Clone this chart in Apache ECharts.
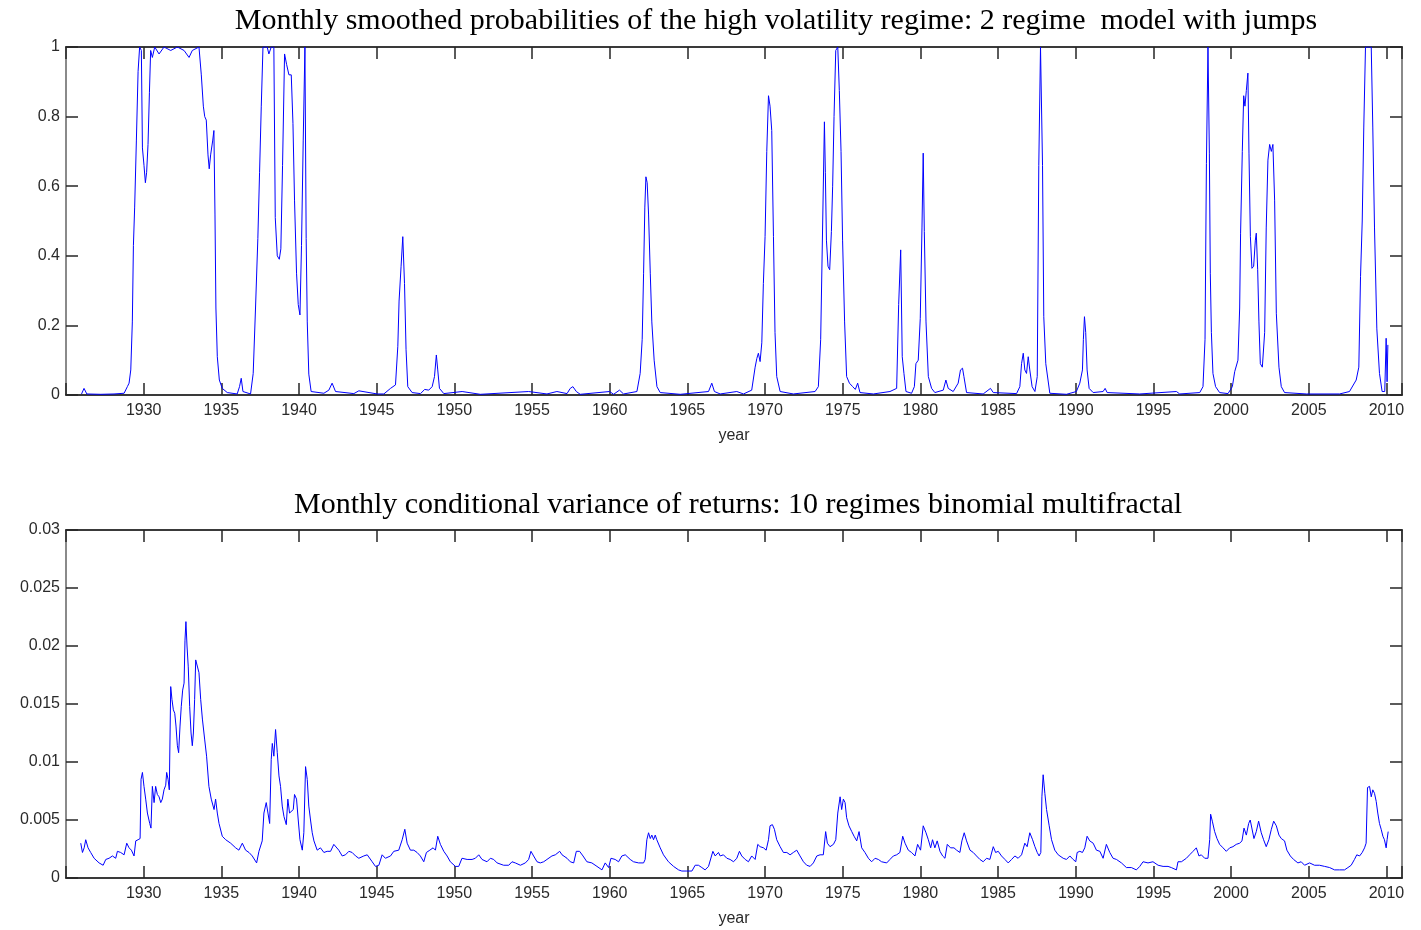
<!DOCTYPE html>
<html>
<head>
<meta charset="utf-8">
<script src="https://cdn.jsdelivr.net/npm/echarts@6/dist/echarts.min.js"></script>
<style>
html,body{margin:0;padding:0;background:#fff;}
#chart{width:1421px;height:930px;}
</style>
</head>
<body>
<div id="chart"></div>
<script>
const topTitle = 'Monthly smoothed probabilities of the high volatility regime: 2 regime  model with jumps';
const bottomTitle = 'Monthly conditional variance of returns: 10 regimes binomial multifractal';
const xAxisName = 'year';

// [year, smoothed probability of high-volatility regime]
const probPoints = [
[1926.0,0.003],[1926.16,0.019],[1926.34,0.003],[1927.24,0.002],[1928.09,0.003],[1928.74,0.005],[1928.95,0.024],[1929.06,0.034],[1929.17,0.072],[1929.27,0.21],[1929.34,0.43],[1929.42,0.54],[1929.53,0.73],[1929.64,0.93],[1929.74,1.0],[1929.85,0.99],[1929.92,0.71],[1930.02,0.66],[1930.11,0.61],[1930.19,0.64],[1930.28,0.72],[1930.37,0.87],[1930.45,0.99],[1930.56,0.97],[1930.71,1.0],[1930.99,0.98],[1931.31,1.0],[1931.74,0.99],[1932.17,1.0],[1932.6,0.99],[1932.92,0.97],[1933.13,0.99],[1933.56,1.0],[1933.71,0.92],[1933.84,0.83],[1933.93,0.8],[1934.03,0.79],[1934.14,0.69],[1934.22,0.65],[1934.31,0.69],[1934.44,0.73],[1934.52,0.76],[1934.59,0.52],[1934.65,0.25],[1934.74,0.11],[1934.87,0.043],[1935.06,0.019],[1935.38,0.007],[1936.02,0.003],[1936.17,0.024],[1936.28,0.048],[1936.39,0.01],[1936.88,0.003],[1937.05,0.062],[1937.2,0.25],[1937.35,0.45],[1937.46,0.64],[1937.57,0.83],[1937.68,1.0],[1937.95,1.0],[1938.06,0.98],[1938.21,1.0],[1938.38,1.0],[1938.47,0.51],[1938.6,0.4],[1938.73,0.39],[1938.83,0.42],[1938.94,0.66],[1939.07,0.98],[1939.2,0.95],[1939.35,0.92],[1939.5,0.92],[1939.61,0.78],[1939.71,0.56],[1939.84,0.35],[1939.95,0.26],[1940.06,0.23],[1940.16,0.43],[1940.27,0.73],[1940.38,1.0],[1940.46,0.45],[1940.53,0.21],[1940.63,0.06],[1940.78,0.01],[1941.6,0.005],[1941.92,0.014],[1942.13,0.034],[1942.35,0.01],[1943.53,0.004],[1943.85,0.012],[1945.03,0.003],[1945.46,0.003],[1945.89,0.019],[1946.21,0.029],[1946.36,0.14],[1946.44,0.27],[1946.57,0.37],[1946.68,0.455],[1946.79,0.32],[1946.89,0.13],[1947.0,0.024],[1947.28,0.007],[1947.82,0.004],[1948.09,0.016],[1948.35,0.014],[1948.57,0.024],[1948.72,0.053],[1948.84,0.115],[1948.93,0.072],[1949.04,0.019],[1949.32,0.004],[1950.5,0.01],[1951.67,0.002],[1954.78,0.01],[1955.96,0.003],[1956.6,0.01],[1957.25,0.004],[1957.46,0.019],[1957.63,0.024],[1957.85,0.01],[1958.1,0.002],[1959.99,0.01],[1960.25,0.002],[1960.63,0.014],[1960.89,0.003],[1961.75,0.01],[1961.96,0.062],[1962.09,0.16],[1962.18,0.35],[1962.26,0.54],[1962.33,0.627],[1962.41,0.61],[1962.5,0.52],[1962.61,0.35],[1962.71,0.21],[1962.86,0.1],[1963.04,0.024],[1963.25,0.007],[1964.54,0.002],[1966.36,0.01],[1966.57,0.034],[1966.74,0.01],[1967.11,0.003],[1968.18,0.01],[1968.61,0.003],[1969.14,0.014],[1969.36,0.08],[1969.47,0.105],[1969.57,0.12],[1969.68,0.096],[1969.79,0.15],[1969.89,0.32],[1970.0,0.455],[1970.11,0.7],[1970.22,0.86],[1970.32,0.83],[1970.43,0.76],[1970.54,0.455],[1970.64,0.18],[1970.75,0.053],[1970.97,0.01],[1971.82,0.003],[1973.22,0.01],[1973.43,0.024],[1973.58,0.16],[1973.71,0.5],[1973.82,0.785],[1973.88,0.64],[1973.95,0.445],[1974.05,0.37],[1974.16,0.36],[1974.27,0.47],[1974.35,0.6],[1974.44,0.8],[1974.55,0.99],[1974.68,1.0],[1974.78,0.875],[1974.89,0.7],[1974.99,0.445],[1975.12,0.21],[1975.25,0.053],[1975.43,0.034],[1975.64,0.024],[1975.81,0.016],[1975.96,0.034],[1976.11,0.007],[1976.97,0.003],[1978.04,0.01],[1978.47,0.019],[1978.6,0.26],[1978.73,0.417],[1978.83,0.11],[1978.94,0.062],[1979.07,0.01],[1979.43,0.005],[1979.61,0.024],[1979.71,0.09],[1979.86,0.1],[1979.99,0.22],[1980.1,0.48],[1980.18,0.695],[1980.25,0.47],[1980.36,0.21],[1980.51,0.053],[1980.72,0.019],[1980.93,0.007],[1981.47,0.014],[1981.64,0.043],[1981.79,0.019],[1982.11,0.01],[1982.43,0.034],[1982.58,0.072],[1982.71,0.077],[1982.8,0.053],[1982.97,0.007],[1984.04,0.003],[1984.51,0.019],[1984.69,0.007],[1986.19,0.004],[1986.4,0.024],[1986.51,0.09],[1986.62,0.12],[1986.72,0.072],[1986.83,0.062],[1986.94,0.11],[1987.04,0.072],[1987.19,0.024],[1987.37,0.01],[1987.52,0.053],[1987.62,0.66],[1987.73,1.0],[1987.82,1.0],[1987.86,0.66],[1987.94,0.225],[1988.07,0.09],[1988.33,0.005],[1989.4,0.002],[1990.04,0.01],[1990.26,0.034],[1990.43,0.072],[1990.49,0.16],[1990.56,0.225],[1990.64,0.18],[1990.73,0.072],[1990.86,0.019],[1991.12,0.007],[1991.76,0.01],[1991.89,0.019],[1992.02,0.007],[1994.12,0.003],[1996.48,0.01],[1996.69,0.003],[1997.98,0.007],[1998.19,0.024],[1998.32,0.16],[1998.41,0.665],[1998.51,1.0],[1998.6,0.695],[1998.66,0.35],[1998.73,0.18],[1998.83,0.062],[1999.0,0.024],[1999.26,0.007],[1999.8,0.004],[2000.08,0.024],[2000.23,0.067],[2000.44,0.1],[2000.55,0.25],[2000.61,0.465],[2000.72,0.7],[2000.81,0.86],[2000.89,0.83],[2000.98,0.875],[2001.08,0.925],[2001.15,0.695],[2001.24,0.455],[2001.34,0.364],[2001.45,0.37],[2001.56,0.445],[2001.62,0.465],[2001.71,0.36],[2001.79,0.21],[2001.88,0.09],[2002.01,0.08],[2002.16,0.18],[2002.26,0.48],[2002.37,0.675],[2002.48,0.72],[2002.59,0.7],[2002.69,0.72],[2002.8,0.56],[2002.91,0.235],[2003.08,0.08],[2003.23,0.024],[2003.44,0.007],[2004.84,0.003],[2006.98,0.003],[2007.62,0.01],[2008.05,0.043],[2008.22,0.08],[2008.33,0.34],[2008.44,0.5],[2008.54,0.77],[2008.65,1.0],[2009.02,1.0],[2009.12,0.77],[2009.23,0.48],[2009.38,0.19],[2009.55,0.062],[2009.72,0.01],[2009.89,0.01],[2009.98,0.163],[2010.04,0.038],[2010.09,0.144]
];

// [year, conditional variance of returns]
const variancePoints = [
[1925.95,0.0030],[1926.06,0.0022],[1926.17,0.0026],[1926.27,0.0033],[1926.42,0.0026],[1926.59,0.0022],[1926.81,0.0017],[1927.13,0.0013],[1927.39,0.0011],[1927.56,0.0016],[1927.77,0.0017],[1927.99,0.0019],[1928.2,0.0017],[1928.31,0.0023],[1928.52,0.0022],[1928.74,0.0020],[1928.91,0.0030],[1929.06,0.0026],[1929.21,0.0024],[1929.38,0.0019],[1929.49,0.0032],[1929.64,0.0033],[1929.77,0.0034],[1929.83,0.0085],[1929.92,0.0091],[1930.02,0.0079],[1930.13,0.0068],[1930.24,0.0056],[1930.39,0.0047],[1930.47,0.0043],[1930.56,0.0079],[1930.67,0.0065],[1930.77,0.0079],[1930.88,0.0072],[1930.99,0.0070],[1931.1,0.0065],[1931.2,0.0068],[1931.31,0.0076],[1931.42,0.0080],[1931.48,0.0091],[1931.57,0.0085],[1931.65,0.0076],[1931.74,0.0165],[1931.82,0.0154],[1931.91,0.0145],[1932.0,0.0142],[1932.08,0.0131],[1932.17,0.0114],[1932.25,0.0108],[1932.34,0.0131],[1932.42,0.0148],[1932.51,0.0162],[1932.6,0.0168],[1932.66,0.0205],[1932.72,0.0221],[1932.79,0.0200],[1932.87,0.0182],[1932.96,0.0148],[1933.05,0.0125],[1933.13,0.0114],[1933.2,0.0125],[1933.28,0.0154],[1933.35,0.0188],[1933.45,0.0188],[1933.56,0.0177],[1933.67,0.0154],[1933.78,0.0137],[1933.93,0.0119],[1934.05,0.0105],[1934.2,0.0079],[1934.35,0.0068],[1934.53,0.0059],[1934.63,0.0068],[1934.74,0.0056],[1934.85,0.0047],[1935.06,0.0036],[1935.28,0.0033],[1935.6,0.0030],[1935.92,0.0026],[1936.13,0.0024],[1936.35,0.0030],[1936.56,0.0024],[1936.78,0.0022],[1936.99,0.0019],[1937.27,0.0013],[1937.42,0.0023],[1937.63,0.0032],[1937.74,0.0056],[1937.89,0.0065],[1938.0,0.0056],[1938.11,0.0047],[1938.21,0.0102],[1938.28,0.0116],[1938.38,0.0105],[1938.49,0.0128],[1938.6,0.0108],[1938.71,0.0088],[1938.81,0.0079],[1938.92,0.0062],[1939.03,0.0053],[1939.18,0.0046],[1939.28,0.0068],[1939.39,0.0056],[1939.5,0.0056],[1939.63,0.0059],[1939.71,0.0072],[1939.84,0.0068],[1939.95,0.0050],[1940.06,0.0033],[1940.21,0.0024],[1940.31,0.0039],[1940.42,0.0096],[1940.53,0.0085],[1940.63,0.0062],[1940.74,0.0050],[1940.85,0.0039],[1940.96,0.0032],[1941.17,0.0024],[1941.38,0.0026],[1941.6,0.0022],[1941.81,0.0023],[1942.03,0.0023],[1942.24,0.0029],[1942.35,0.0030],[1942.56,0.0024],[1942.78,0.0019],[1942.99,0.0020],[1943.21,0.0023],[1943.42,0.0022],[1943.64,0.0019],[1943.85,0.0017],
[1944.17,0.0019],[1944.39,0.0020],[1944.71,0.0014],[1944.92,0.0010],[1945.14,0.0011],[1945.35,0.0020],[1945.56,0.0017],[1945.89,0.0019],[1946.1,0.0023],[1946.42,0.0024],[1946.64,0.0033],[1946.81,0.0042],[1946.96,0.0030],[1947.17,0.0024],[1947.39,0.0024],[1947.6,0.0022],[1947.81,0.0019],[1948.03,0.0014],[1948.2,0.0022],[1948.42,0.0024],[1948.63,0.0026],[1948.78,0.0024],[1948.93,0.0036],[1949.1,0.0029],[1949.32,0.0023],[1949.53,0.0019],[1949.74,0.0014],[1950.07,0.0010],[1950.28,0.0010],[1950.49,0.0017],[1950.82,0.0016],[1951.14,0.0016],[1951.35,0.0017],[1951.57,0.0020],[1951.78,0.0016],[1952.1,0.0014],[1952.32,0.0017],[1952.53,0.0016],[1952.75,0.0013],[1953.17,0.0011],[1953.5,0.0011],[1953.71,0.0014],[1953.92,0.0013],[1954.25,0.0011],[1954.57,0.0013],[1954.78,0.0016],[1954.93,0.0023],[1955.1,0.0019],[1955.32,0.0014],[1955.53,0.0013],[1955.75,0.0014],[1955.96,0.0016],[1956.28,0.0019],[1956.5,0.0020],[1956.78,0.0023],[1956.93,0.0020],[1957.25,0.0017],[1957.46,0.0014],[1957.68,0.0013],[1957.85,0.0023],[1958.06,0.0023],[1958.28,0.0019],[1958.53,0.0014],[1958.85,0.0013],[1959.18,0.0010],[1959.5,0.0007],[1959.71,0.0013],[1959.93,0.0009],[1960.08,0.0017],[1960.35,0.0016],[1960.57,0.0014],[1960.78,0.0019],[1961.0,0.0020],[1961.32,0.0016],[1961.53,0.0014],[1961.86,0.0013],[1962.18,0.0013],[1962.28,0.0016],[1962.39,0.0033],[1962.5,0.0039],[1962.61,0.0034],[1962.71,0.0037],[1962.82,0.0033],[1962.93,0.0037],[1963.03,0.0033],[1963.25,0.0026],[1963.46,0.0020],[1963.78,0.0014],[1964.11,0.0010],[1964.43,0.0007],[1964.64,0.0006],[1964.96,0.0006],[1965.29,0.0006],[1965.5,0.0011],
[1965.71,0.0011],[1965.93,0.0009],[1966.14,0.0007],[1966.36,0.0010],[1966.64,0.0023],[1966.79,0.0019],[1967.0,0.0022],[1967.11,0.0019],[1967.32,0.0020],[1967.54,0.0017],[1967.75,0.0016],[1967.97,0.0014],[1968.18,0.0017],[1968.35,0.0023],[1968.5,0.0019],[1968.72,0.0016],[1968.93,0.0014],[1969.14,0.0019],[1969.36,0.0016],[1969.53,0.0029],[1969.68,0.0027],[1969.9,0.0026],[1970.07,0.0024],[1970.22,0.0033],[1970.32,0.0045],[1970.47,0.0046],[1970.6,0.0042],[1970.75,0.0033],[1970.97,0.0027],[1971.18,0.0022],[1971.4,0.0022],[1971.61,0.0020],[1971.82,0.0022],[1972.04,0.0024],[1972.25,0.0019],[1972.47,0.0014],[1972.68,0.0011],[1972.9,0.0010],[1973.11,0.0013],[1973.33,0.0019],[1973.54,0.0020],[1973.75,0.0020],[1973.9,0.0040],[1974.01,0.0030],[1974.18,0.0027],[1974.4,0.0029],[1974.55,0.0033],[1974.68,0.0056],[1974.83,0.0070],[1974.93,0.0059],[1975.04,0.0068],[1975.15,0.0065],[1975.25,0.0052],[1975.4,0.0045],[1975.58,0.0040],[1975.73,0.0036],[1975.9,0.0032],[1976.05,0.0040],[1976.22,0.0026],[1976.43,0.0022],[1976.65,0.0017],[1976.86,0.0014],[1977.08,0.0017],[1977.29,0.0016],[1977.5,0.0014],[1977.83,0.0013],[1978.04,0.0016],[1978.26,0.0019],[1978.47,0.0020],[1978.68,0.0022],[1978.86,0.0036],[1979.01,0.0030],[1979.22,0.0024],[1979.43,0.0022],[1979.65,0.0019],[1979.82,0.0029],[1980.01,0.0024],[1980.18,0.0045],[1980.36,0.0039],[1980.51,0.0033],[1980.66,0.0026],[1980.78,0.0033],[1980.93,0.0026],[1981.08,0.0032],[1981.26,0.0023],[1981.43,0.0019],[1981.58,0.0017],[1981.73,0.0029],[1981.94,0.0026],[1982.16,0.0026],[1982.33,0.0024],[1982.54,0.0022],[1982.67,0.0032],[1982.82,0.0039],[1982.97,0.0032],[1983.19,0.0024],[1983.4,0.0022],[1983.61,0.0019],[1983.83,0.0016],[1984.04,0.0014],[1984.26,0.0017],[1984.47,0.0016],[1984.69,0.0027],[1984.84,0.0022],[1985.01,0.0023],[1985.22,0.0019],[1985.44,0.0016],[1985.65,0.0013],[1985.87,0.0016],[1986.08,0.0019],[1986.29,0.0017],[1986.51,0.0020],[1986.72,0.0030],[1986.87,0.0027],[1987.04,0.0039],[1987.22,0.0033],[1987.37,0.0027],[1987.52,0.0022],[1987.64,0.0019],[1987.75,0.0022],[1987.82,0.0070],[1987.9,0.0089],[1988.01,0.0073],[1988.12,0.0059],[1988.29,0.0045],[1988.44,0.0033],[1988.65,0.0024],[1988.87,0.0020],
[1989.19,0.0017],[1989.4,0.0016],[1989.62,0.0019],[1989.83,0.0016],[1990.0,0.0014],[1990.09,0.0022],[1990.26,0.0023],[1990.43,0.0022],[1990.58,0.0026],[1990.73,0.0036],[1990.9,0.0032],[1991.12,0.0030],[1991.33,0.0024],[1991.55,0.0023],[1991.76,0.0017],[1991.97,0.0029],[1992.19,0.0022],[1992.4,0.0017],[1992.62,0.0016],[1992.94,0.0013],[1993.26,0.0009],[1993.58,0.0009],[1993.9,0.0007],[1994.12,0.0010],[1994.33,0.0014],[1994.65,0.0013],[1994.97,0.0014],[1995.3,0.0011],[1995.62,0.0010],[1995.94,0.0010],[1996.15,0.0009],[1996.48,0.0007],[1996.58,0.0014],[1996.8,0.0014],[1997.12,0.0017],[1997.33,0.0020],[1997.55,0.0023],[1997.76,0.0026],[1997.93,0.0019],[1998.08,0.0020],[1998.3,0.0017],[1998.51,0.0017],[1998.62,0.0033],[1998.68,0.0055],[1998.79,0.0049],[1998.94,0.0040],[1999.09,0.0034],[1999.26,0.0029],[1999.48,0.0026],[1999.69,0.0023],[1999.91,0.0026],[2000.12,0.0027],[2000.33,0.0029],[2000.55,0.0030],[2000.7,0.0032],[2000.83,0.0043],[2000.98,0.0037],[2001.13,0.0047],[2001.23,0.0050],[2001.34,0.0049],[2001.47,0.0034],[2001.62,0.0040],[2001.77,0.0049],[2001.94,0.0039],[2002.09,0.0033],[2002.26,0.0027],[2002.43,0.0033],[2002.59,0.0042],[2002.74,0.0049],[2002.91,0.0045],[2003.08,0.0037],[2003.23,0.0034],[2003.44,0.0032],[2003.59,0.0024],[2003.81,0.0019],[2004.02,0.0016],[2004.3,0.0013],[2004.51,0.0014],[2004.73,0.0011],[2005.05,0.0013],[2005.37,0.0011],[2005.69,0.0011],[2006.02,0.0010],[2006.34,0.0009],[2006.66,0.0007],[2006.98,0.0007],[2007.3,0.0007],[2007.52,0.0009],[2007.73,0.0011],[2007.94,0.0016],[2008.09,0.0020],[2008.27,0.0019],[2008.44,0.0022],[2008.59,0.0026],[2008.69,0.0030],[2008.78,0.0078],[2008.91,0.0079],[2009.02,0.0070],[2009.12,0.0076],[2009.23,0.0073],[2009.34,0.0066],[2009.44,0.0056],[2009.55,0.0047],[2009.66,0.0042],[2009.77,0.0036],[2009.87,0.0033],[2009.98,0.0026],[2010.04,0.0033],[2010.11,0.0040]
];

const yearMin = 1925, yearMax = 2011, yearStep = 5;
const probMin = 0, probMax = 1, probStep = 0.2;
const varMin = 0, varMax = 0.03, varStep = 0.005;

const chart = echarts.init(document.getElementById('chart'), null, {renderer: 'canvas'});

const labelStyle = {fontFamily: '"Liberation Sans", Arial, sans-serif', fontSize: 16, color: '#2a2a2a'};
const tickStyle = {color: '#262626', width: 1.5};

function makeXAxes(gridIndex) {
  const common = {
    type: 'value', gridIndex: gridIndex, min: yearMin, max: yearMax, interval: yearStep,
    splitLine: {show: false},
    axisLine: {show: true, onZero: false, lineStyle: {color: '#3a3a3a', width: 2}},
    axisTick: {show: true, inside: true, length: 12, lineStyle: tickStyle}
  };
  return [
    Object.assign({}, common, {
      position: 'bottom',
      axisLabel: Object.assign({}, labelStyle, {
        margin: 8,
        formatter: function (v) { return (v % 5 === 0 && v > yearMin && v < yearMax) ? String(v) : ''; }
      }),
      name: xAxisName, nameLocation: 'middle', nameGap: 33,
      nameTextStyle: Object.assign({}, labelStyle)
    }),
    Object.assign({}, common, {position: 'top', axisLabel: {show: false}})
  ];
}

function makeYAxes(gridIndex, min, max, step) {
  const common = {
    type: 'value', gridIndex: gridIndex, min: min, max: max, interval: step,
    splitLine: {show: false},
    axisLine: {show: true, onZero: false, lineStyle: {color: '#8a8a8a', width: 2}},
    axisTick: {show: true, inside: true, length: 12, lineStyle: tickStyle}
  };
  return [
    Object.assign({}, common, {
      position: 'left',
      axisLabel: Object.assign({}, labelStyle, {margin: 6})
    }),
    Object.assign({}, common, {position: 'right', axisLabel: {show: false}})
  ];
}

const titleFont = '"Liberation Serif", "Times New Roman", serif';

const option = {
  animation: false,
  backgroundColor: '#ffffff',
  grid: [
    {left: 66, top: 47, width: 1336, height: 348},
    {left: 66, top: 530, width: 1336, height: 348}
  ],
  xAxis: makeXAxes(0).concat(makeXAxes(1)),
  yAxis: makeYAxes(0, probMin, probMax, probStep).concat(makeYAxes(1, varMin, varMax, varStep)),
  graphic: [
    {type: 'text', x: 776, y: 21, style: {text: topTitle, fontFamily: titleFont, fontSize: 30, fill: '#000', textAlign: 'center', textVerticalAlign: 'middle', align: 'center', verticalAlign: 'middle'}},
    {type: 'text', x: 738, y: 505, style: {text: bottomTitle, fontFamily: titleFont, fontSize: 30, fill: '#000', textAlign: 'center', textVerticalAlign: 'middle', align: 'center', verticalAlign: 'middle'}}
  ],
  series: [
    {type: 'line', xAxisIndex: 0, yAxisIndex: 0, data: probPoints, showSymbol: false, symbol: 'none',
     lineStyle: {color: '#0000ff', width: 1}, clip: true},
    {type: 'line', xAxisIndex: 2, yAxisIndex: 2, data: variancePoints, showSymbol: false, symbol: 'none',
     lineStyle: {color: '#0000ff', width: 1}, clip: true}
  ]
};

chart.setOption(option);
</script>
</body>
</html>
